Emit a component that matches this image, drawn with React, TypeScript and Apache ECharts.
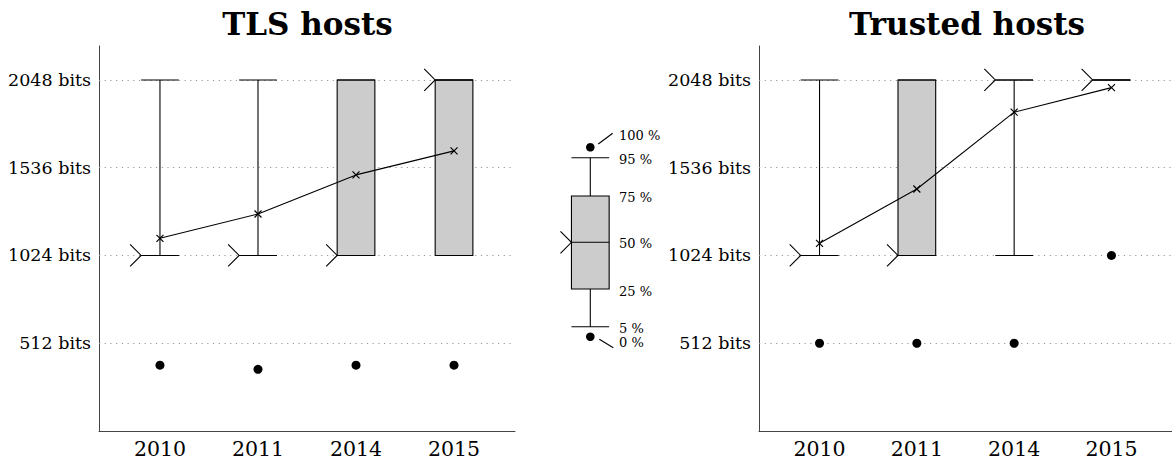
import React, { useEffect, useRef } from "react";
import * as echarts from "echarts";

const years = ["2010", "2011", "2014", "2015"];
const yTicks = [512, 1024, 1536, 2048];

// [p5, p25, p50, p75, p95]
const tlsBoxes = [
  [1024, 1024, 1024, 1024, 2048],
  [1024, 1024, 1024, 1024, 2048],
  [1024, 1024, 1024, 2048, 2048],
  [1024, 1024, 2048, 2048, 2048],
];
const tlsMin = [384, 360, 384, 384];
const tlsMean = [1124, 1266, 1494, 1634];

const trustedBoxes = [
  [1024, 1024, 1024, 1024, 2048],
  [1024, 1024, 1024, 2048, 2048],
  [1024, 2048, 2048, 2048, 2048],
  [2048, 2048, 2048, 2048, 2048],
];
const trustedMin = [512, 512, 512, 1024];
const trustedMean = [1095, 1412, 1860, 2003];

const legendLabels = ["100 %", "95 %", "75 %", "50 %", "25 %", "5 %", "0 %"];

const FONT = "DejaVu Serif";
const BOX_W = 37.7;
const ARROW = 11;

function renderBox(params: any, api: any) {
  const x = api.value(0);
  const ys = [1, 2, 3, 4, 5].map((i) => api.coord([x, api.value(i)])[1]);
  const cx = api.coord([x, api.value(1)])[0];
  const [y5, y25, y50, y75, y95] = ys;
  const hw = BOX_W / 2;
  const st = { stroke: "#000", lineWidth: 1.1, fill: "none" };
  const children: any[] = [];
  if (Math.abs(y25 - y75) > 0.5) {
    children.push({
      type: "rect",
      shape: { x: cx - hw, y: y75, width: BOX_W, height: y25 - y75 },
      style: { fill: "#cccccc", stroke: "#000", lineWidth: 1.1 },
    });
  }
  if (Math.abs(y5 - y25) > 0.5)
    children.push({ type: "line", shape: { x1: cx, y1: y5, x2: cx, y2: y25 }, style: st });
  if (Math.abs(y75 - y95) > 0.5)
    children.push({ type: "line", shape: { x1: cx, y1: y75, x2: cx, y2: y95 }, style: st });
  children.push({ type: "line", shape: { x1: cx - hw, y1: y5, x2: cx + hw, y2: y5 }, style: st });
  children.push({ type: "line", shape: { x1: cx - hw, y1: y95, x2: cx + hw, y2: y95 }, style: st });
  children.push({ type: "line", shape: { x1: cx - hw, y1: y50, x2: cx + hw, y2: y50 }, style: st });
  children.push({
    type: "polyline",
    shape: {
      points: [
        [cx - hw - ARROW, y50 - ARROW],
        [cx - hw, y50],
        [cx - hw - ARROW, y50 + ARROW],
      ],
    },
    style: st,
  });
  return { type: "group", children };
}

const crossSymbol = "path://M0,0L10,10M10,0L0,10";

function panelSeries(idx: number, boxes: number[][], mins: number[], means: number[]) {
  return [
    {
      type: "custom",
      xAxisIndex: idx,
      yAxisIndex: idx,
      renderItem: renderBox,
      data: boxes.map((b, i) => [i, ...b]),
      encode: { x: 0, y: [1, 2, 3, 4, 5] },
      z: 2,
      silent: true,
    },
    {
      type: "scatter",
      xAxisIndex: idx,
      yAxisIndex: idx,
      data: mins.map((v, i) => [i, v]),
      symbol: "circle",
      symbolSize: 9,
      itemStyle: { color: "#000", opacity: 1 },
      z: 3,
      silent: true,
      markLine: {
        silent: true,
        symbol: ["none", "none"],
        label: { show: false },
        lineStyle: { type: [1.2, 4.5], color: "#999", width: 1, opacity: 1 },
        data: yTicks.map((v) => ({ yAxis: v })),
        z: 1,
      },
    },
    {
      type: "line",
      xAxisIndex: idx,
      yAxisIndex: idx,
      data: means.map((v, i) => [i, v]),
      symbol: crossSymbol,
      symbolSize: 7,
      showAllSymbol: true,
      lineStyle: { color: "#000", width: 1.1 },
      itemStyle: { color: "rgba(0,0,0,0)", borderColor: "#000", borderWidth: 1.2 },
      z: 4,
      silent: true,
    },
  ];
}

function xAxisFor(idx: number) {
  return {
    type: "value",
    gridIndex: idx,
    min: -0.622,
    max: 3.622,
    axisLine: { show: true, onZero: false, lineStyle: { color: "#444", width: 1 } },
    axisTick: { show: false },
    splitLine: { show: false },
    axisLabel: {
      customValues: [0, 1, 2, 3],
      formatter: (v: number) => years[Math.round(v)] ?? "",
      fontFamily: FONT,
      fontSize: 20.5,
      color: "#000",
      margin: 7,
    },
  };
}

function yAxisFor(idx: number) {
  return {
    type: "value",
    gridIndex: idx,
    min: 0,
    max: 2246,
    interval: 512,
    axisLine: { show: true, onZero: false, lineStyle: { color: "#444", width: 1 } },
    axisTick: { show: false },
    splitLine: { show: false },
    axisLabel: {
      formatter: (v: number) => (yTicks.includes(v) ? `${v} bits` : ""),
      fontFamily: FONT,
      fontSize: 17.5,
      color: "#000",
      margin: 8,
    },
  };
}

function legendGraphics() {
  const cx = 590.3;
  const hw = BOX_W / 2;
  const yTop = 147.3, y95 = 157.7, y75 = 196, y50 = 242.3, y25 = 289, y5 = 326.7, yBot = 336.7;
  const st = { stroke: "#000", lineWidth: 1.1, fill: "none" };
  const labelYs = [135, 159.3, 197.3, 243.3, 291.7, 328.3, 342.3];
  const els: any[] = [
    { type: "rect", shape: { x: cx - hw, y: y75, width: BOX_W, height: y25 - y75 }, style: { fill: "#cccccc", stroke: "#000", lineWidth: 1.1 } },
    { type: "line", shape: { x1: cx - hw, y1: y50, x2: cx + hw, y2: y50 }, style: st },
    { type: "polyline", shape: { points: [[cx - hw - ARROW, y50 - ARROW], [cx - hw, y50], [cx - hw - ARROW, y50 + ARROW]] }, style: st },
    { type: "line", shape: { x1: cx, y1: y95, x2: cx, y2: y75 }, style: st },
    { type: "line", shape: { x1: cx - hw, y1: y95, x2: cx + hw, y2: y95 }, style: st },
    { type: "line", shape: { x1: cx, y1: y25, x2: cx, y2: y5 }, style: st },
    { type: "line", shape: { x1: cx - hw, y1: y5, x2: cx + hw, y2: y5 }, style: st },
    { type: "circle", shape: { cx, cy: yTop, r: 4.3 }, style: { fill: "#000" } },
    { type: "circle", shape: { cx, cy: yBot, r: 4.3 }, style: { fill: "#000" } },
    { type: "line", shape: { x1: 598.3, y1: 144, x2: 612.7, y2: 133.3 }, style: st },
    { type: "line", shape: { x1: 599.3, y1: 339.3, x2: 613.3, y2: 347.7 }, style: st },
  ];
  legendLabels.forEach((t, i) => {
    els.push({
      type: "text",
      x: 619,
      y: labelYs[i],
      style: { text: t, fontFamily: FONT, fontSize: 13, fill: "#000", textAlign: "left", textVerticalAlign: "middle" },
    });
  });
  return els;
}

export default function App() {
  const ref = useRef<HTMLDivElement>(null);
  useEffect(() => {
    if (!ref.current) return;
    const chart = echarts.init(ref.current, null, { renderer: "svg" });
    chart.setOption({
      animation: false,
      backgroundColor: "#fff",
      grid: [
        { left: 99, top: 46, width: 416, height: 385 },
        { left: 759, top: 46, width: 416, height: 385 },
      ],
      xAxis: [xAxisFor(0), xAxisFor(1)],
      yAxis: [yAxisFor(0), yAxisFor(1)],
      series: [
        ...panelSeries(0, tlsBoxes, tlsMin, tlsMean),
        ...panelSeries(1, trustedBoxes, trustedMin, trustedMean),
      ],
      graphic: [
        {
          type: "text",
          x: 307.5,
          y: 24,
          style: { text: "TLS hosts", fontFamily: FONT, fontSize: 31, fontWeight: "bold", fill: "#000", textAlign: "center", textVerticalAlign: "middle" },
        },
        {
          type: "text",
          x: 967,
          y: 24,
          style: { text: "Trusted hosts", fontFamily: FONT, fontSize: 31, fontWeight: "bold", fill: "#000", textAlign: "center", textVerticalAlign: "middle" },
        },
        ...legendGraphics(),
      ],
    });
    return () => chart.dispose();
  }, []);
  return (
    <div
      ref={ref}
      style={{ position: "fixed", left: 0, top: 0, width: 1172, height: 466 }}
    />
  );
}
